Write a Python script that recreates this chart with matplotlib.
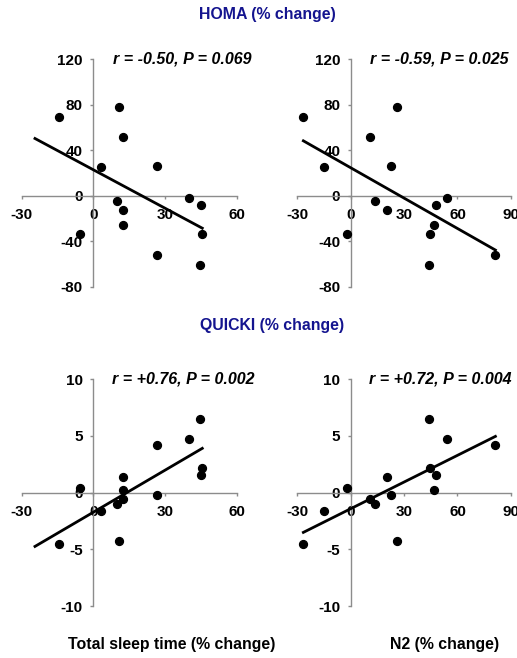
import numpy as np
import matplotlib
matplotlib.use("Agg")
import matplotlib.pyplot as plt

plt.rcParams['font.family'] = ['Liberation Sans', 'DejaVu Sans']
plt.rcParams['font.weight'] = 'bold'
plt.rcParams['axes.unicode_minus'] = False

# Per-subject % change values
tst = [-14.4, 10.7, 12.6, 3.2, 26.5, 9.8, 12.3, 12.3, -5.6, 26.5, 39.9, 44.9, 45.6, 44.8]
n2 = [-26.6, 25.8, 10.9, -14.8, 22.5, 13.7, 20.2, 46.8, -2.2, 81.3, 53.9, 47.8, 44.8, 44.2]
homa = [68.9, 78.3, 51.9, 25.5, 26.4, -5.0, -12.6, -25.8, -34.0, -52.2, -2.1, -7.9, -33.7, -61.0]
quicki = [-4.56, -4.29, -0.53, -1.62, -0.18, -0.97, 1.38, 0.26, 0.38, 4.2, 4.76, 1.59, 2.15, 6.5]

stats = {
    ("tst", "homa"): "r = -0.50, P = 0.069",
    ("n2", "homa"): "r = -0.59, P = 0.025",
    ("tst", "quicki"): "r = +0.76, P = 0.002",
    ("n2", "quicki"): "r = +0.72, P = 0.004",
}

xticks_tst = [-30, 0, 30, 60]
xticks_n2 = [-30, 0, 30, 60, 90]
yticks_homa = [-80, -40, 0, 40, 80, 120]
yticks_quicki = [-10, -5, 0, 5, 10]

W, H = 517, 658
fig = plt.figure(figsize=(W / 100, H / 100), dpi=100)

def px_box(x0, x1, ytop, ybot):
    return [x0 / W, 1 - ybot / H, (x1 - x0) / W, (ybot - ytop) / H]

panels = [
    ("tst", "homa", px_box(21.6, 236.7, 59.3, 286.7), xticks_tst, yticks_homa, (182, 59)),
    ("n2", "homa", px_box(297.3, 510.9, 59.3, 286.7), xticks_n2, yticks_homa, (439, 59)),
    ("tst", "quicki", px_box(21.6, 236.7, 379.3, 606.0), xticks_tst, yticks_quicki, (183, 379)),
    ("n2", "quicki", px_box(297.3, 510.9, 379.3, 606.0), xticks_n2, yticks_quicki, (440, 379)),
]
series = {"tst": tst, "n2": n2, "homa": homa, "quicki": quicki}

axis_grey = "#8c8c8c"
for xk, yk, box, xt, yt, tpos in panels:
    ax = fig.add_axes(box)
    x = np.array(series[xk])
    y = np.array(series[yk])
    ax.set_xlim(xt[0], xt[-1])
    ax.set_ylim(yt[0], yt[-1])
    for s in ("top", "right"):
        ax.spines[s].set_visible(False)
    ax.spines["left"].set_position(("data", 0))
    ax.spines["bottom"].set_position(("data", 0))
    for s in ("left", "bottom"):
        ax.spines[s].set_color(axis_grey)
        ax.spines[s].set_linewidth(1.0)
    ax.set_xticks(xt)
    ax.set_yticks(yt)
    ax.tick_params(axis="x", direction="out", length=2.5, width=1, color=axis_grey,
                   pad=6.5, labelsize=11)
    ax.tick_params(axis="y", direction="out", length=2.5, width=1, color=axis_grey,
                   pad=5, labelsize=11)
    for lab in ax.get_xticklabels() + ax.get_yticklabels():
        lab.set_fontweight("bold")
    ax.patch.set_alpha(0)
    # least-squares trend line, extended 10 units backward
    k, b = np.polyfit(x, y, 1)
    xl = np.array([x.min() - 10 if xk == "tst" else x.min(), x.max()])
    ax.plot(xl, k * xl + b, color="black", lw=2, zorder=3, clip_on=False)
    ax.scatter(x, y, s=32, color="black", zorder=4, clip_on=False)
    fig.text(tpos[0] / W, 1 - tpos[1] / H, stats[(xk, yk)], ha="center", va="center",
             fontsize=11.5, fontweight="bold", fontstyle="italic")

title_col = "#14148f"
fig.text(267.5 / W, 1 - 15 / H, "HOMA (% change)", ha="center", va="center",
         fontsize=11.4, fontweight="bold", color=title_col)
fig.text(272.5 / W, 1 - 325 / H, "QUICKI (% change)", ha="center", va="center",
         fontsize=11.4, fontweight="bold", color=title_col)
fig.text(172 / W, 1 - 644 / H, "Total sleep time (% change)", ha="center", va="center",
         fontsize=11.4, fontweight="bold")
fig.text(445 / W, 1 - 644 / H, "N2 (% change)", ha="center", va="center",
         fontsize=11.4, fontweight="bold")

fig.savefig("out.png", dpi=100)
